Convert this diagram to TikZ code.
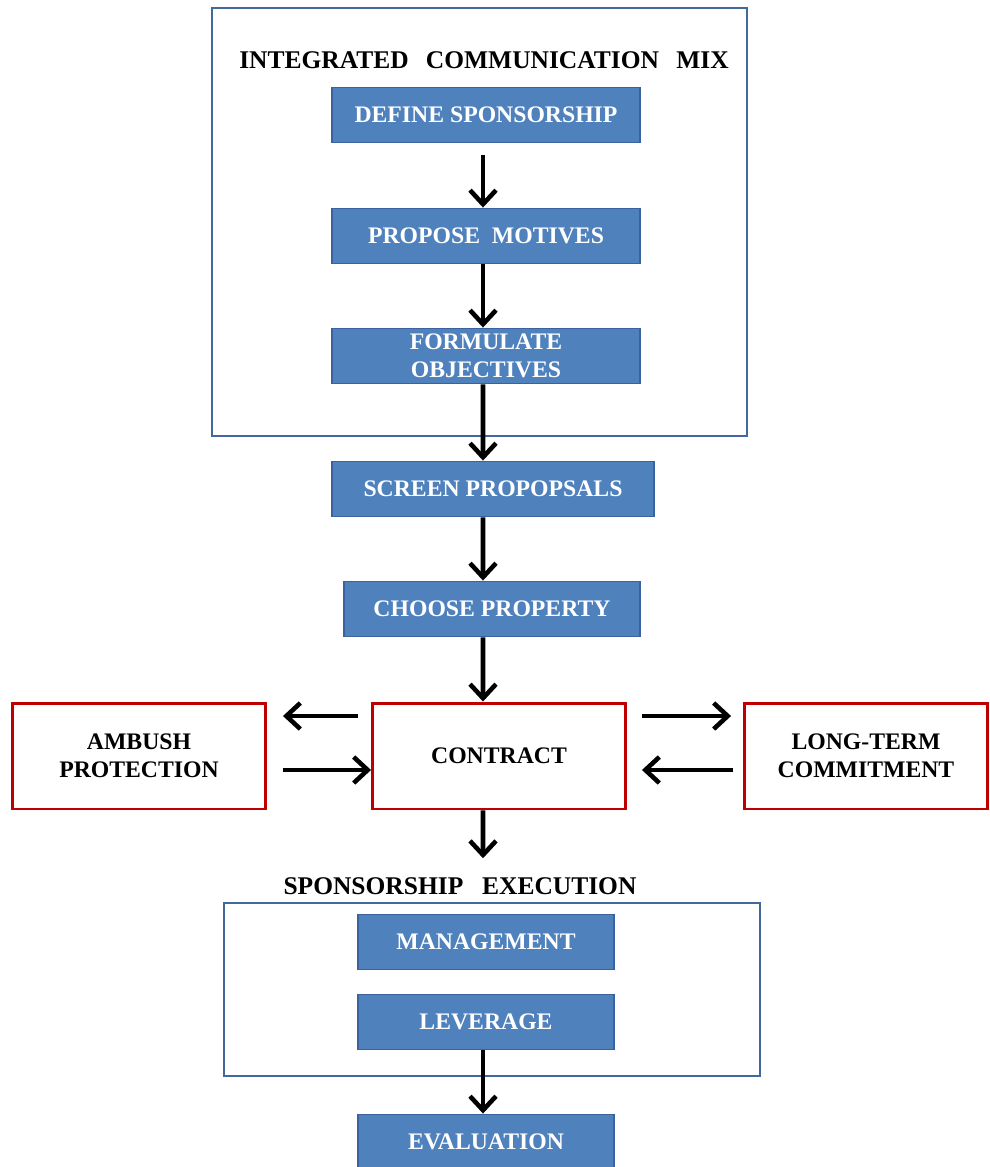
\documentclass[tikz,border=0pt]{standalone}
\usepackage{fontspec}
\setmainfont{Liberation Serif}
\usetikzlibrary{arrows.meta}
\definecolor{boxblue}{HTML}{4F81BD}
\definecolor{edgeblue}{HTML}{3A62A0}
\definecolor{frameblue}{HTML}{41699C}
\definecolor{boxred}{HTML}{C00000}
\tikzset{
	stepbox/.style={draw=edgeblue, fill=boxblue, line width=1.1pt, text=white,
		font=\fontsize{13.5}{16}\selectfont\bfseries, align=center,
		minimum height=1.1cm, inner sep=0pt},
	redbox/.style={draw=boxred, line width=1.7pt, text=black,
		font=\fontsize{13.5}{16}\selectfont\bfseries, align=center,
		minimum width=5.06cm, minimum height=2.12cm, inner sep=0pt},
	framebox/.style={draw=frameblue, line width=1.2pt},
	headline/.style={font=\fontsize{14.5}{16}\selectfont\bfseries},
	flow/.style={line width=2.6pt, -{Straight Barb[length=0.28cm, width=0.52cm]}}
}
\begin{document}
\begin{tikzpicture}[x=0.02cm, y=-0.02cm]
	\useasboundingbox (0,0) rectangle (990,1167);
	
	%Communication mix
	\draw[framebox] (212,8) rectangle (747,436);
	\node[headline] (mix) at (484,60) {INTEGRATED\hspace{0.68em}COMMUNICATION\hspace{0.68em}MIX};
	\node[stepbox, minimum width=6.16cm] (define) at (486,115) {DEFINE SPONSORSHIP};
	\node[stepbox, minimum width=6.16cm] (motives) at (486,236) {PROPOSE\ \ MOTIVES};
	\node[stepbox, minimum width=6.16cm] (objectives) at (486,356) {FORMULATE\\OBJECTIVES};
	
	%Selection
	\node[stepbox, minimum width=6.44cm] (screen) at (493,489) {SCREEN PROPOPSALS};
	\node[stepbox, minimum width=5.92cm] (property) at (492,609) {CHOOSE PROPERTY};
	
	%Contract row
	\node[redbox] (contract) at (499,756) {CONTRACT};
	\node[redbox] (ambush) at (139,756) {AMBUSH\\PROTECTION};
	\node[redbox, minimum width=4.86cm] (longterm) at (866,756) {LONG-TERM\\COMMITMENT};
	
	%Execution
	\node[headline] (execution) at (460,886) {SPONSORSHIP\hspace{0.74em}EXECUTION};
	\draw[framebox] (224,903) rectangle (760,1076);
	\node[stepbox, minimum width=5.12cm] (management) at (486,942) {MANAGEMENT};
	\node[stepbox, minimum width=5.12cm] (leverage) at (486,1022) {LEVERAGE};
	\node[stepbox, minimum width=5.12cm] (evaluation) at (486,1142) {EVALUATION};
	
	%Arrows
	\draw[flow, shorten <=0.24cm] ([xshift=-0.06cm]define.south) -- ([xshift=-0.06cm]motives.north);
	\draw[flow] ([xshift=-0.06cm]motives.south) -- ([xshift=-0.06cm]objectives.north);
	\draw[flow] ([xshift=-0.06cm]objectives.south) -- ([xshift=-0.2cm]screen.north);
	\draw[flow] ([xshift=-0.2cm]screen.south) -- ([xshift=-0.18cm]property.north);
	\draw[flow] ([xshift=-0.18cm]property.south) -- ([xshift=-0.32cm]contract.north);
	\draw[flow] ([xshift=-0.32cm]contract.south) -- ([xshift=0.46cm,yshift=0.26cm]execution.north);
	\draw[flow] ([xshift=-0.06cm]leverage.south) -- ([xshift=-0.06cm]evaluation.north);
	
	\draw[flow] ([xshift=-0.26cm,yshift=0.8cm]contract.west) -- ([xshift=0.32cm,yshift=0.8cm]ambush.east);
	\draw[flow] ([xshift=0.32cm,yshift=-0.28cm]ambush.east) -- ([yshift=-0.28cm]contract.west);
	\draw[flow] ([xshift=0.3cm,yshift=0.8cm]contract.east) -- ([xshift=-0.24cm,yshift=0.8cm]longterm.west);
	\draw[flow] ([xshift=-0.2cm,yshift=-0.28cm]longterm.west) -- ([xshift=0.3cm,yshift=-0.28cm]contract.east);
\end{tikzpicture}
\end{document}
